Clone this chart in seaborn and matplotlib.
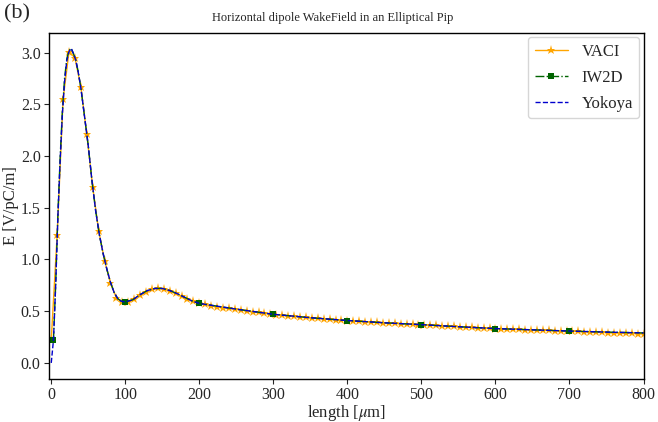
import numpy as np
import pandas as pd
import matplotlib
matplotlib.use("Agg")
import matplotlib.pyplot as plt
import seaborn as sns

# ---- data ----
vaci_x = [0, 8, 16, 24, 32, 40, 48, 56, 64, 72, 80, 88, 96, 104, 112, 120, 128, 136, 144, 152,
          160, 168, 176, 184, 192, 200, 208, 216, 224, 232, 240, 248, 256, 264, 272, 280, 288,
          296, 304, 312, 320, 328, 336, 344, 352, 360, 368, 376, 384, 392, 400, 408, 416, 424,
          432, 440, 448, 456, 464, 472, 480, 488, 496, 504, 512, 520, 528, 536, 544, 552, 560,
          568, 576, 584, 592, 600, 608, 616, 624, 632, 640, 648, 656, 664, 672, 680, 688, 696,
          704, 712, 720, 728, 736, 744, 752, 760, 768, 776, 784, 792, 800]
vaci_y = [0.22, 1.24, 2.55, 3.01, 2.95, 2.67, 2.21, 1.70, 1.28, 0.99, 0.77, 0.63, 0.59, 0.59,
          0.62, 0.66, 0.69, 0.715, 0.72, 0.715, 0.70, 0.675, 0.645, 0.62, 0.595, 0.575, 0.565,
          0.555, 0.545, 0.535, 0.528, 0.52, 0.512, 0.504, 0.496, 0.488, 0.48, 0.473, 0.467,
          0.461, 0.456, 0.451, 0.446, 0.441, 0.436, 0.431, 0.426, 0.421, 0.417, 0.413, 0.409,
          0.405, 0.401, 0.398, 0.395, 0.392, 0.389, 0.386, 0.383, 0.380, 0.377, 0.374, 0.371,
          0.368, 0.365, 0.362, 0.359, 0.356, 0.353, 0.350, 0.347, 0.344, 0.341, 0.338, 0.335,
          0.332, 0.330, 0.328, 0.326, 0.324, 0.322, 0.320, 0.318, 0.316, 0.314, 0.312, 0.310,
          0.308, 0.306, 0.304, 0.302, 0.300, 0.298, 0.296, 0.294, 0.292, 0.290, 0.288, 0.286,
          0.284, 0.282]

yokoya_x = [0, 3, 6, 9, 12, 15, 18, 21, 24, 27, 30, 33, 36, 40, 45, 50, 55, 60, 65, 70, 75,
            80, 85, 90, 95, 100, 110, 120, 130, 140, 150, 160, 170, 180, 190, 200, 250, 300,
            350, 400, 450, 500, 550, 600, 650, 700, 750, 800]
yokoya_y = [0.0, 0.22, 0.75, 1.42, 1.95, 2.40, 2.72, 2.92, 3.01, 3.04, 2.99, 2.93, 2.83, 2.66,
            2.38, 2.10, 1.76, 1.47, 1.24, 1.06, 0.91, 0.78, 0.68, 0.62, 0.595, 0.59, 0.61,
            0.66, 0.70, 0.72, 0.72, 0.70, 0.67, 0.635, 0.60, 0.575, 0.52, 0.47, 0.437, 0.41,
            0.388, 0.37, 0.35, 0.332, 0.32, 0.308, 0.298, 0.29]

iw2d_x = [3, 6, 9, 12, 15, 18, 21, 24, 27, 30, 33, 36, 40, 45, 50, 55, 60, 65, 70, 75,
          80, 85, 90, 95, 100, 110, 120, 130, 140, 150, 160, 170, 180, 190, 200, 250, 300,
          350, 400, 450, 500, 550, 600, 650, 700, 750, 800]
iw2d_y = [0.22, 0.76, 1.44, 1.98, 2.43, 2.75, 2.94, 3.02, 3.04, 2.99, 2.93, 2.83, 2.66,
          2.38, 2.10, 1.76, 1.47, 1.24, 1.06, 0.91, 0.78, 0.68, 0.62, 0.595, 0.59, 0.61,
          0.66, 0.70, 0.72, 0.72, 0.70, 0.67, 0.635, 0.60, 0.575, 0.52, 0.47, 0.437, 0.41,
          0.388, 0.37, 0.35, 0.332, 0.32, 0.308, 0.298, 0.29]
iw2d_marker_x = [3, 100, 200, 300, 400, 500, 600, 700]

x_ticks = [0, 100, 200, 300, 400, 500, 600, 700, 800]
y_ticks = [0.0, 0.5, 1.0, 1.5, 2.0, 2.5, 3.0]

# ---- style ----
sns.set_style("ticks")
plt.rcParams["font.family"] = ["Liberation Serif", "DejaVu Serif"]
plt.rcParams["mathtext.fontset"] = "stix"

fig = plt.figure(figsize=(6.58, 4.22), dpi=100)
ax = fig.add_axes([0.0745, 0.102, 0.9035, 0.820])

vaci = pd.DataFrame({"x": vaci_x, "y": vaci_y})
yok = pd.DataFrame({"x": yokoya_x, "y": yokoya_y})
iw = pd.DataFrame({"x": iw2d_x, "y": iw2d_y})
mark_idx = [iw2d_x.index(v) for v in iw2d_marker_x]

sns.lineplot(data=vaci, x="x", y="y", ax=ax, color="orange", linewidth=1.0,
             marker="*", markersize=6.5, markeredgewidth=0, sort=False,
             estimator=None, errorbar=None, label="VACI")
sns.lineplot(data=iw, x="x", y="y", ax=ax, color="darkgreen", linewidth=1.0,
             linestyle="-.", marker="s", markersize=5, markeredgewidth=0,
             markevery=mark_idx, sort=False, estimator=None, errorbar=None, label="IW2D")
sns.lineplot(data=yok, x="x", y="y", ax=ax, color="mediumblue", linewidth=1.0,
             linestyle="--", sort=False, estimator=None, errorbar=None, label="Yokoya")

ax.set_xlim(-3, 800)
ax.set_ylim(-0.155, 3.19)
ax.set_xticks(x_ticks)
ax.set_yticks(y_ticks)
ax.set_yticklabels([f"{v:.1f}" for v in y_ticks])
ax.tick_params(labelsize=11.5, direction="out", length=3.5, width=0.8, pad=2.5)
for s in ax.spines.values():
    s.set_color("black")
    s.set_linewidth(1.0)

ax.set_xlabel(r"length [$\mu$m]", fontsize=12, labelpad=0)
ax.set_ylabel("E [V/pC/m]", fontsize=12, labelpad=1)
fig.text(0.506, 0.957, "Horizontal dipole WakeField in an Elliptical Pip",
         fontsize=9, ha="center", va="center")
fig.text(0.006, 0.967, "(b)", fontsize=16, ha="left", va="center")

leg = ax.legend(loc="upper right", fontsize=12, frameon=True, handlelength=2.0,
                labelspacing=0.6, borderaxespad=0.25)
leg.get_frame().set_edgecolor("#cccccc")

fig.savefig("out.png", dpi=100)
